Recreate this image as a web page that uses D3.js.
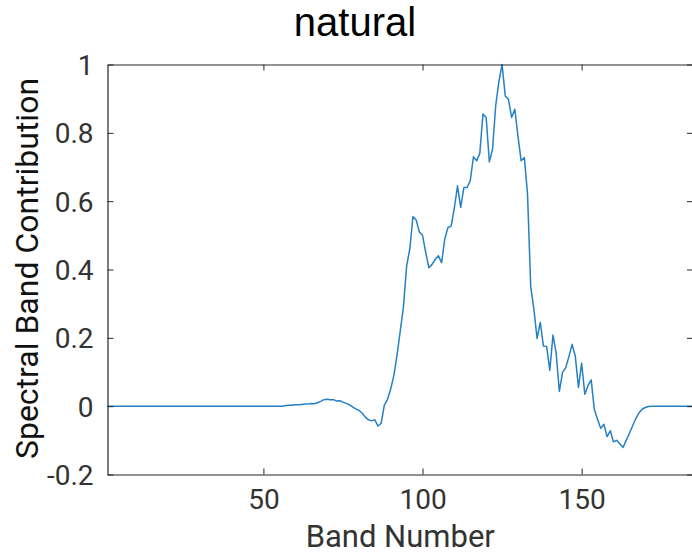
<!DOCTYPE html>
<html>
<head>
<meta charset="utf-8">
<script src="https://cdn.jsdelivr.net/npm/d3@7"></script>
<style>
  html, body { margin: 0; padding: 0; background: #fff; }
  svg { display: block; }
</style>
</head>
<body>
<svg id="chart" width="692" height="556"></svg>
<script>
// ---- data ----
const titleText = "natural";
const xLabel = "Band Number";
const yLabel = "Spectral Band Contribution";
const xDomain = [1, 185];
const yDomain = [-0.2, 1];
const xTicks = [50, 100, 150];
const yTicks = [-0.2, 0, 0.2, 0.4, 0.6, 0.8, 1];
const yTickLabels = ["-0.2", "0", "0.2", "0.4", "0.6", "0.8", "1"];

// bands 57..172 (others are 0)
const nonZeroStart = 57;
const nonZeroValues = [
  0.002, 0.003, 0.003, 0.004, 0.004, 0.005, 0.006, 0.006, 0.008, 0.007,   // 57-66
  0.010, 0.014, 0.019, 0.020, 0.019, 0.019, 0.015, 0.016, 0.012, 0.008,   // 67-76
  0.004, -0.002, -0.008, -0.012, -0.020, -0.032, -0.040, -0.043, -0.040, -0.058, // 77-86
  -0.050, 0.003, 0.020, 0.050, 0.090, 0.150, 0.220, 0.290, 0.410, 0.460,  // 87-96
  0.555, 0.545, 0.510, 0.500, 0.450, 0.405, 0.415, 0.430, 0.440, 0.420,   // 97-106
  0.490, 0.523, 0.527, 0.580, 0.645, 0.582, 0.640, 0.640, 0.660, 0.730,   // 107-116
  0.718, 0.740, 0.855, 0.845, 0.715, 0.752, 0.880, 0.950, 1.000, 0.908,   // 117-126
  0.898, 0.845, 0.869, 0.790, 0.718, 0.728, 0.620, 0.350, 0.284, 0.198,   // 127-136
  0.245, 0.176, 0.175, 0.105, 0.208, 0.155, 0.043, 0.099, 0.113, 0.145,   // 137-146
  0.181, 0.147, 0.055, 0.126, 0.035, 0.060, 0.077, -0.010, -0.038, -0.065, // 147-156
  -0.053, -0.089, -0.072, -0.104, -0.100, -0.110, -0.121, -0.100, -0.080, -0.058, // 157-166
  -0.037, -0.020, -0.009, -0.004, -0.001, 0.000                            // 167-172
];
const bands = d3.range(1, 186);
const values = bands.map(b => {
  const i = b - nonZeroStart;
  return (i >= 0 && i < nonZeroValues.length) ? nonZeroValues[i] : 0;
});

// ---- layout ----
const svg = d3.select("#chart");
const L = 107.5, R = 693, T = 64.5, B = 474.5;
const x = d3.scaleLinear().domain(xDomain).range([L, R]);
const y = d3.scaleLinear().domain(yDomain).range([B, T]);
const axisColor = "#262626";
const tickFont = "Roboto, 'Noto Sans', sans-serif";

// line
const line = d3.line().x((d, i) => x(bands[i])).y(d => y(d));
svg.append("path")
  .datum(values)
  .attr("d", line)
  .attr("fill", "none")
  .attr("stroke", "#2580C6")
  .attr("stroke-width", 1.5)
  .attr("stroke-linejoin", "round");

// axes
const xAxisB = d3.axisBottom(x).tickValues(xTicks).tickSizeInner(-6).tickSizeOuter(0).tickPadding(15);
const xAxisT = d3.axisTop(x).tickValues(xTicks).tickSizeInner(-6).tickSizeOuter(0).tickFormat("");
const yAxisL = d3.axisLeft(y).tickValues(yTicks).tickSizeInner(-6).tickSizeOuter(0).tickPadding(14)
  .tickFormat((d, i) => yTickLabels[i]);
const yAxisR = d3.axisRight(y).tickValues(yTicks).tickSizeInner(-6).tickSizeOuter(0).tickFormat("");

function style(g) {
  g.select(".domain").attr("stroke", axisColor).attr("stroke-width", 1.2);
  g.selectAll(".tick line").attr("stroke", axisColor).attr("stroke-width", 1);
  g.selectAll(".tick text").attr("fill", "#333")
    .attr("font-family", tickFont).attr("font-size", 28);
}
svg.append("g").attr("transform", `translate(0,${B})`).call(xAxisB).call(style)
  .selectAll(".tick text").attr("dy", "0.71em");
svg.append("g").attr("transform", `translate(0,${T})`).call(xAxisT).call(style);
svg.append("g").attr("transform", `translate(${L},0)`).call(yAxisL).call(style)
  .selectAll(".tick text").attr("dy", "0.36em");
svg.append("g").attr("transform", `translate(${R},0)`).call(yAxisR).call(style);
svg.selectAll(".domain").attr("fill", "none");

// title
svg.append("text")
  .attr("x", 355).attr("y", 36)
  .attr("text-anchor", "middle")
  .attr("font-family", "'Liberation Sans', Arial, sans-serif")
  .attr("font-size", 40)
  .attr("fill", "#000")
  .text(titleText);

// x label
svg.append("text")
  .attr("x", (L + R) / 2).attr("y", 547)
  .attr("text-anchor", "middle")
  .attr("font-family", tickFont)
  .attr("font-size", 31)
  .attr("fill", "#333")
  .text(xLabel);

// y label
svg.append("text")
  .attr("transform", `translate(38,${(T + B) / 2 - 1}) rotate(-90)`)
  .attr("text-anchor", "middle")
  .attr("font-family", tickFont)
  .attr("font-size", 32)
  .attr("fill", "#111")
  .text(yLabel);
</script>
</body>
</html>
